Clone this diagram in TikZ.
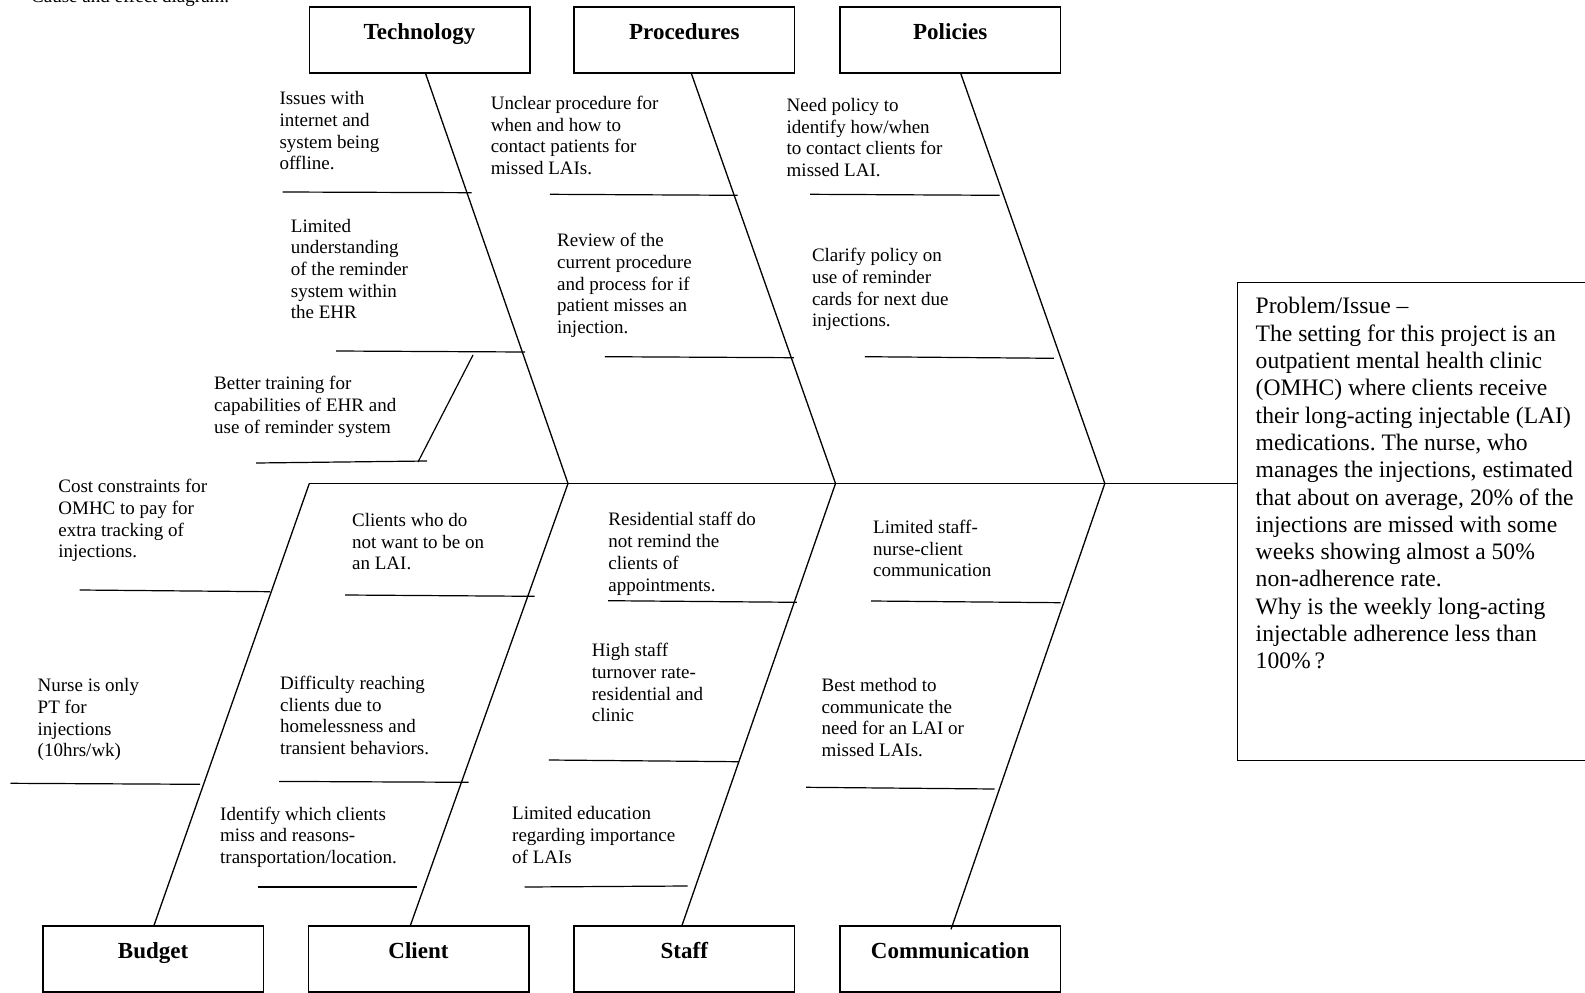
\documentclass[tikz,border=0pt]{standalone}
\usepackage{fontspec}
\setmainfont{Liberation Serif}
\frenchspacing
\tikzset{
  catbox/.style={draw, line width=1.6pt, minimum width=220.4pt, minimum height=65.7pt,
    inner sep=0pt, text height=16pt, text depth=18pt,
    font=\bfseries\fontsize{23}{27}\selectfont},
  bone/.style={line width=1.3pt},
  rib/.style={line width=1.2pt},
  cause/.style={anchor=north west, inner sep=0pt, align=left,
    font=\fontsize{19}{21.7}\selectfont},
  probtext/.style={anchor=north west, inner sep=0pt, align=left,
    font=\fontsize{23.6}{27.3}\selectfont},
}
\begin{document}
\begin{tikzpicture}[x=1pt,y=-1pt]
\useasboundingbox (0,0) rectangle (1585,993);
% caption, cut off by the top edge as in the reference
\node[cause, anchor=base west] (caption) at (31,2.5) {Cause and effect diagram.};

% category boxes
\node[catbox] (tech) at (419.5,40) {Technology};
\node[catbox] (proc) at (684.3,40) {Procedures};
\node[catbox] (pol)  at (950.2,40) {Policies};
\node[catbox] (bud)  at (153.1,959) {Budget};
\node[catbox] (cli)  at (418.5,959) {Client};
\node[catbox] (sta)  at (684.3,959) {Staff};
\node[catbox] (com)  at (950.2,959) {Communication};

% problem box
\node[draw, line width=1.6pt, anchor=north west, minimum width=370pt,
      minimum height=478pt, inner sep=0pt] (prob) at (1236.5,281.5) {};
\node[probtext] (probtxt) at (1255.5,297.4) {Problem/Issue \textendash\\
The setting for this project is an\\
outpatient mental health clinic\\
(OMHC) where clients receive\\
their long-acting injectable (LAI)\\
medications. The nurse, who\\
manages the injections, estimated\\
that about on average, 20\% of the\\
injections are missed with some\\
weeks showing almost a 50\%\\
non-adherence rate.\\
Why is the weekly long-acting\\
injectable adherence less than\\
100\%\,?};

% spine
\coordinate (s0) at (309.3,483.5);
\coordinate (j1) at (568,483.5);
\coordinate (j2) at (835.5,483.5);
\coordinate (j3) at (1104.8,483.5);
\draw[bone] (s0) -- (prob.west |- s0);

% main bones
\draw[bone] ([xshift=6.1pt]tech.south) -- (j1);
\draw[bone] ([xshift=7.1pt]proc.south) -- (j2);
\draw[bone] ([xshift=10.6pt]pol.south) -- (j3);
\draw[bone] (s0) -- ([xshift=0.9pt]bud.north);
\draw[bone] (j1) -- ([xshift=-8.1pt]cli.north);
\draw[bone] (j2) -- ([xshift=-2.3pt]sta.north);
\draw[bone] (j3) -- ([xshift=0.8pt,yshift=-4pt]com.north);

% ribs
\draw[rib] (282.7,192) -- (471.7,192.7);
\draw[rib] (336,351) -- (525,352);
\draw[rib] (473,355) -- (418,462);
\draw[rib] (256,463) -- (427,461);
\draw[rib] (549.8,194.3) -- (737.6,195.3);
\draw[rib] (604.9,356.7) -- (793.9,357.7);
\draw[rib] (810.2,194.3) -- (999.6,195.3);
\draw[rib] (864.9,356.7) -- (1053.9,358.3);
\draw[rib] (79.6,590) -- (270.2,591.7);
\draw[rib] (10.5,783.3) -- (200,784.3);
\draw[rib] (345.2,595) -- (534.6,596.3);
\draw[rib] (279.2,781.4) -- (468.6,782.3);
\draw[rib] (258,887) -- (416.7,887);
\draw[rib] (608.2,600.7) -- (796.9,602.3);
\draw[rib] (548.9,760) -- (738.3,761.7);
\draw[rib] (524.7,887) -- (687.5,886);
\draw[rib] (871.1,601) -- (1060.6,602.7);
\draw[rib] (806,787.3) -- (994.7,789);

% cause texts
\node[cause] (t1) at (279.3,91.4) {Issues with\\internet and\\system being\\offline.};
\node[cause] (t2) at (290.7,218.8) {Limited\\understanding\\of the reminder\\system within\\the EHR};
\node[cause] (t3) at (214,376.4) {Better training for\\capabilities of EHR and\\use of reminder system};
\node[cause] (p1) at (490.6,95.8) {Unclear procedure for\\when and how to\\contact patients for\\missed LAIs.};
\node[cause] (p2) at (557,233.1) {Review of the\\current procedure\\and process for if\\patient misses an\\injection.};
\node[cause] (q1) at (786.5,98.1) {Need policy to\\identify how/when\\to contact clients for\\missed LAI.};
\node[cause] (q2) at (811.8,248.1) {Clarify policy on\\use of reminder\\cards for next due\\injections.};
\node[cause] (b1) at (58.2,479.1) {Cost constraints for\\OMHC to pay for\\extra tracking of\\injections.};
\node[cause] (b2) at (37.5,678.4) {Nurse is only\\PT for\\injections\\(10hrs/wk)};
\node[cause] (c1) at (352,513.1) {Clients who do\\not want to be on\\an LAI.};
\node[cause] (c2) at (280,675.8) {Difficulty reaching\\clients due to\\homelessness and\\transient behaviors.};
\node[cause] (c3) at (220,806.5) {Identify which clients\\miss and reasons-\\transportation/location.};
\node[cause] (s1) at (608.2,512.4) {Residential staff do\\not remind the\\clients of\\appointments.};
\node[cause] (s2) at (591.7,643.1) {High staff\\turnover rate-\\residential and\\clinic};
\node[cause] (s3) at (512,806.5) {Limited education\\regarding importance\\of LAIs};
\node[cause] (m1) at (873,519.8) {Limited staff-\\nurse-client\\communication};
\node[cause] (m2) at (821.4,678.1) {Best method to\\communicate the\\need for an LAI or\\missed LAIs.};
\end{tikzpicture}
\end{document}
